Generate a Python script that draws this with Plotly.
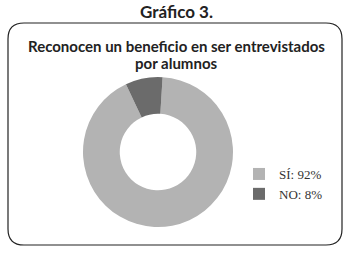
import plotly.graph_objects as go

categories = ["SÍ", "NO"]
values = [92, 8]
colors = ["#b3b3b3", "#6b6b6b"]
fig_title = "Gráfico 3."
chart_title_lines = ["Reconocen un beneficio en ser entrevistados", "por alumnos"]

W, H = 352, 253

def px(x):
    return x / W

def py(y):
    return 1 - y / H

labels = [f"{c}: {v}%" for c, v in zip(categories, values)]

fig = go.Figure(go.Pie(
    labels=labels, values=values, sort=False, direction="clockwise",
    rotation=3.5, hole=0.51,
    marker=dict(colors=colors, line=dict(width=0)),
    textinfo="none", hoverinfo="label",
    domain=dict(x=[px(82), px(234)], y=[py(227), py(77)]),
))

# rounded box
x0, x1, y0, y1, r = 8, 342, 23, 245, 16
path = (f"M {px(x0+r)},{py(y0)} L {px(x1-r)},{py(y0)} Q {px(x1)},{py(y0)} {px(x1)},{py(y0+r)} "
        f"L {px(x1)},{py(y1-r)} Q {px(x1)},{py(y1)} {px(x1-r)},{py(y1)} "
        f"L {px(x0+r)},{py(y1)} Q {px(x0)},{py(y1)} {px(x0)},{py(y1-r)} "
        f"L {px(x0)},{py(y0+r)} Q {px(x0)},{py(y0)} {px(x0+r)},{py(y0)} Z")
fig.add_shape(type="path", path=path, xref="paper", yref="paper",
              line=dict(color="#222222", width=1.2))

fig.add_annotation(text=f"<b>{fig_title}</b>", x=0.5, y=py(12), xref="paper", yref="paper",
                   showarrow=False, font=dict(family="Lato", size=17, color="#222222"),
                   xanchor="center", yanchor="middle")
for line, ypix in zip(chart_title_lines, [46, 63]):
    fig.add_annotation(text=f"<b>{line}</b>", x=0.5, y=py(ypix), xref="paper", yref="paper",
                       showarrow=False, font=dict(family="Lato", size=15, color="#222222"),
                       xanchor="center", yanchor="middle")

fig.update_layout(
    width=W, height=H, margin=dict(l=0, r=0, t=0, b=0),
    paper_bgcolor="white", plot_bgcolor="white",
    showlegend=True,
    legend=dict(x=px(239), y=py(159), xanchor="left", yanchor="top",
                font=dict(family="Liberation Serif", size=13, color="#333333"),
                tracegroupgap=0, itemwidth=30, bgcolor="rgba(0,0,0,0)"),
)

fig.write_html("out.html", config={"displayModeBar": False},
               post_script="document.body.style.margin='0';document.body.style.overflow='hidden';")
